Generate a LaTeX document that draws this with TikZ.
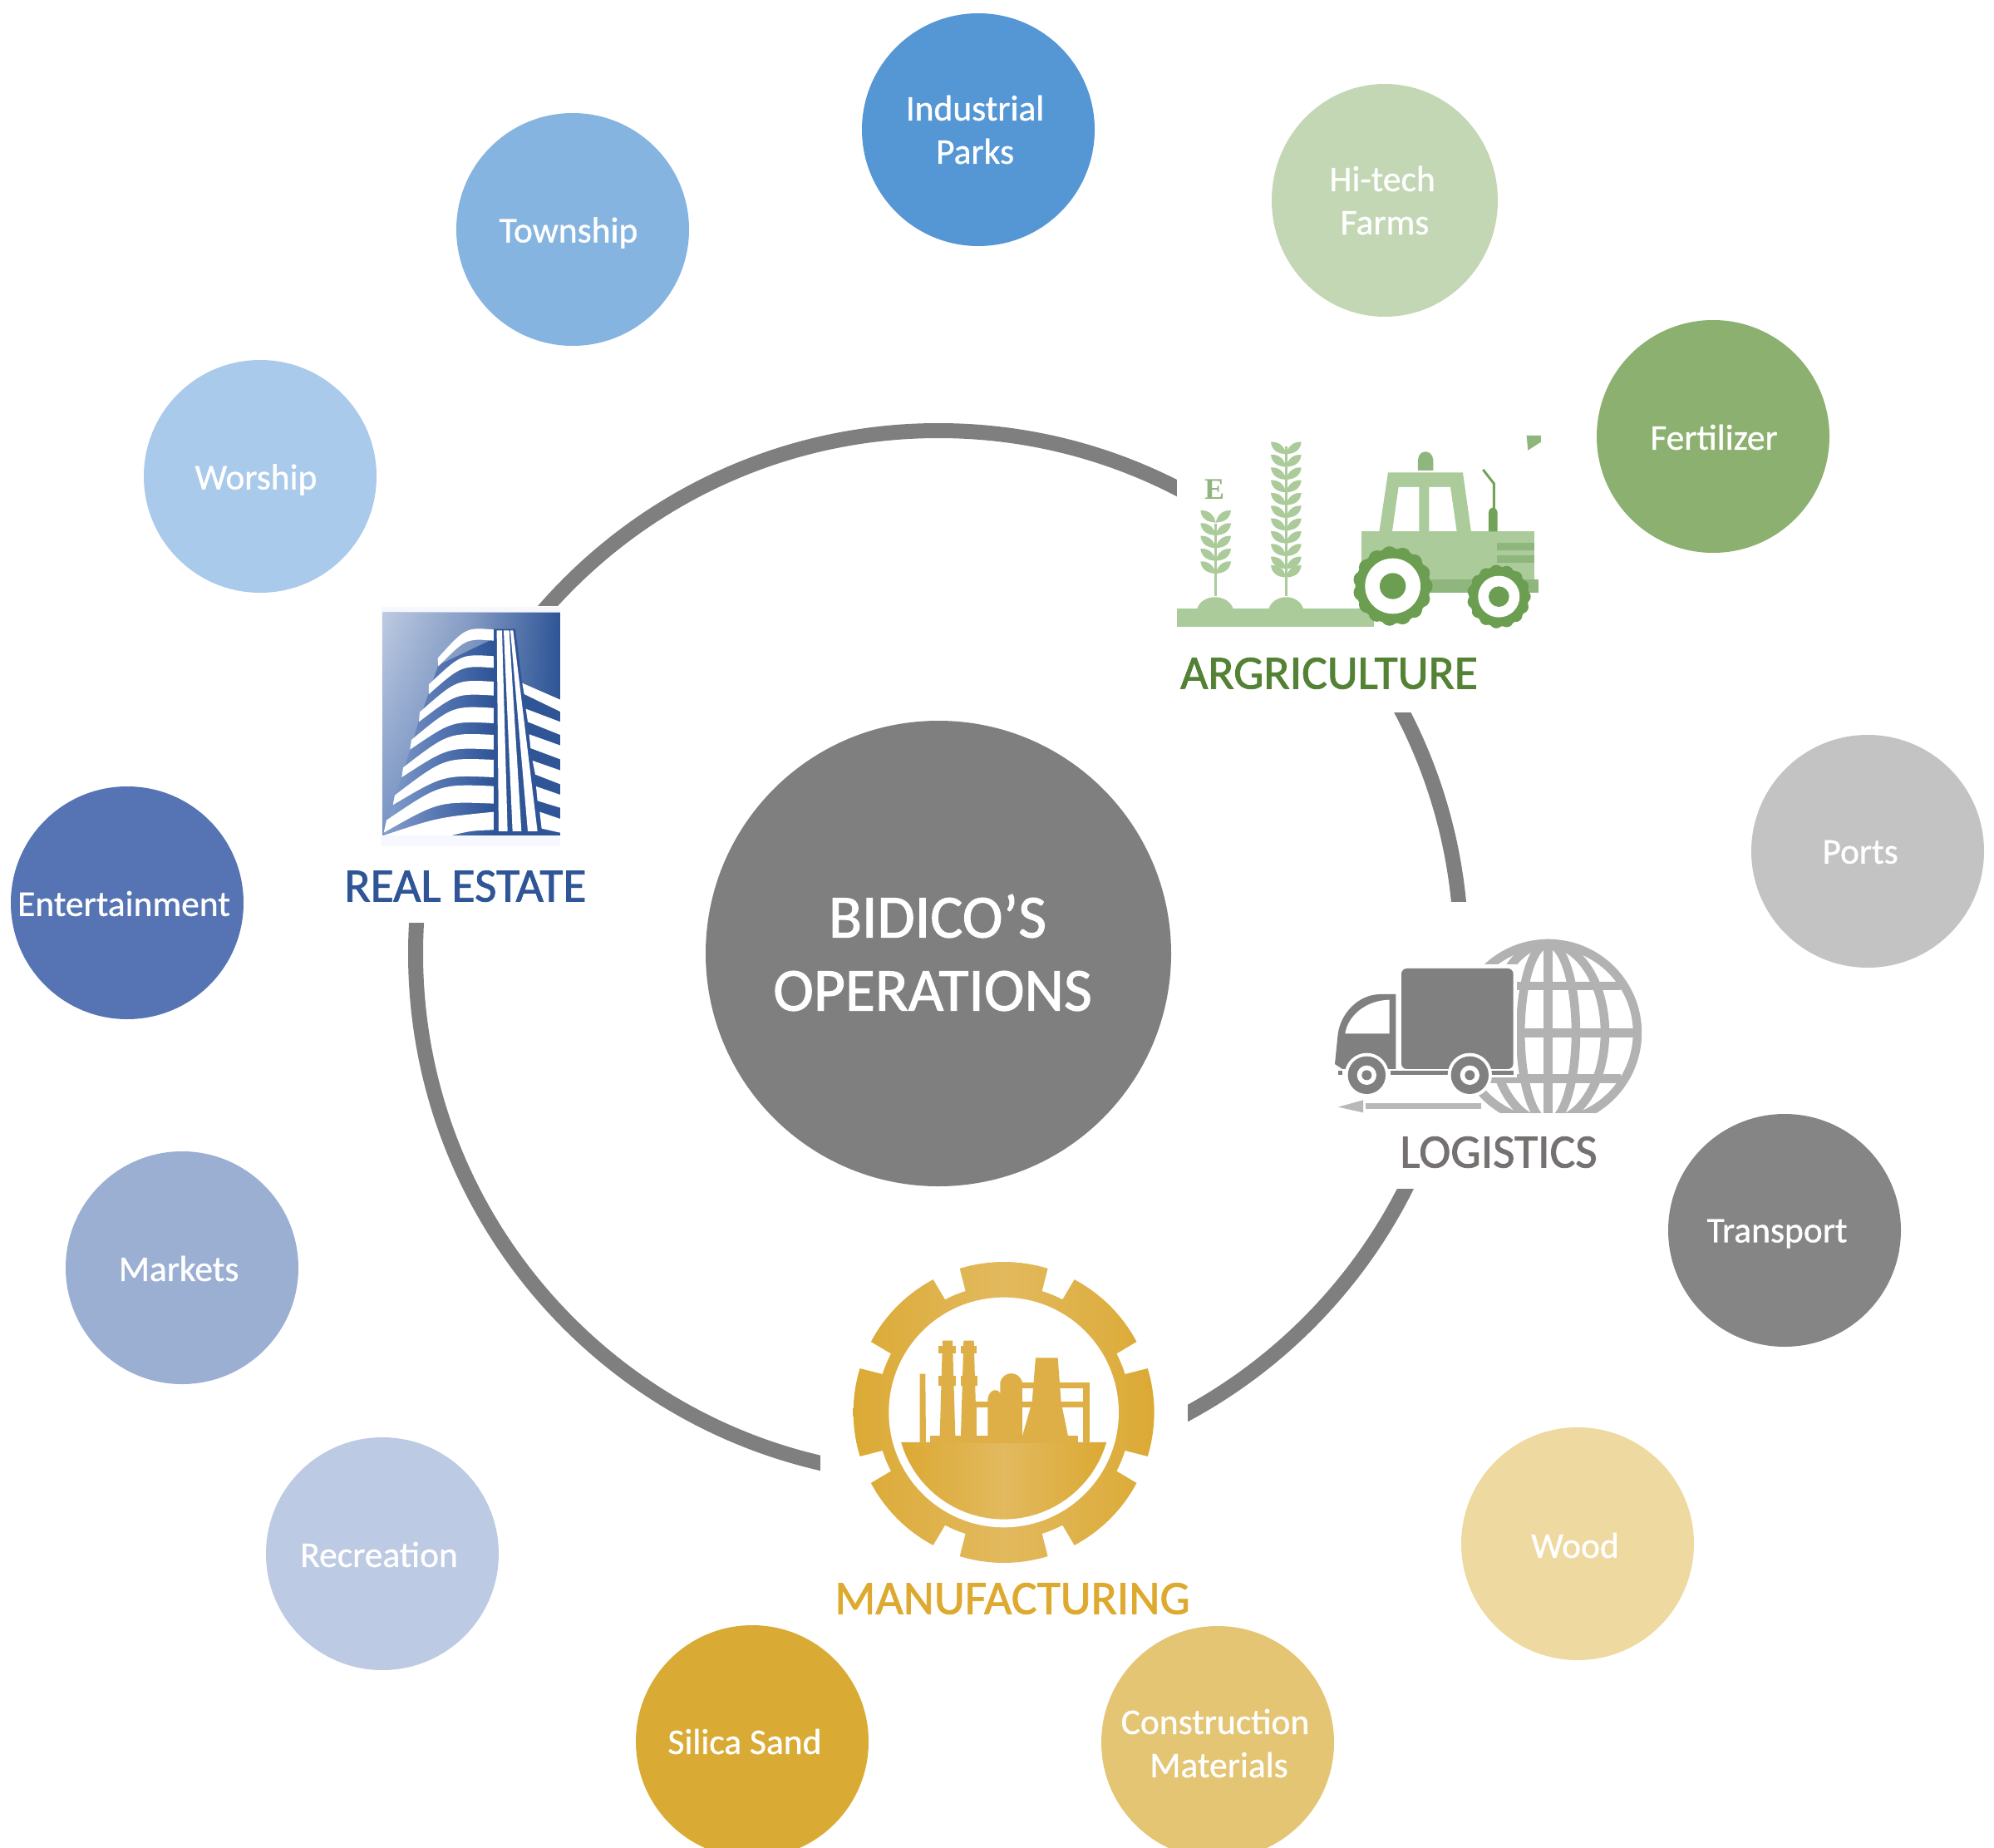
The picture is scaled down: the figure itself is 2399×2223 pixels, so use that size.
\documentclass[tikz,border=0pt]{standalone}
\usepackage{fontspec}
\setmainfont{Carlito}
\newfontfamily\eserif{Liberation Serif}
\newfontfamily\bubf[FakeBold=0.8]{Carlito}
\newfontfamily\headf[FakeBold=1.4]{Carlito}
\usetikzlibrary{fadings,shapes.geometric}
\definecolor{ringgrey}{HTML}{7F7F7F}
\definecolor{reblue}{HTML}{2F5597}
\definecolor{aggreen}{HTML}{548235}
\definecolor{lggrey}{HTML}{767171}
\definecolor{mfgold}{HTML}{DDA92F}
\definecolor{tractl}{HTML}{ABCB9B}
\definecolor{tractm}{HTML}{8FB67C}
\definecolor{tractd}{HTML}{6B9E50}
\definecolor{gearc}{HTML}{DBA933}
\definecolor{gearf}{HTML}{DEAF46}
\definecolor{gearl}{HTML}{E2B95E}
\tikzfading[name=faderight,left color=transparent!100,right color=transparent!0,middle color=transparent!60]
\tikzset{
  bubble/.style={circle,minimum size=280pt,inner sep=0pt,draw=none},
  bubtext/.style={text=white,align=center,inner sep=0pt,font=\bubf\fontsize{43.5}{52}\selectfont},
  headtext/.style={inner sep=0pt,font=\headf\fontsize{57.5}{60}\selectfont},
  iconzoom/.style={x=0.3333pt,y=-0.3333pt}
}
\newcommand{\rband}[6]{\fill[white] (#1,#2) .. controls ({#1+0.5*(522-#1)},{#3-8}) .. (522,#3) -- (522,#6) .. controls ({#4+0.5*(522-#4)},{#6-8}) .. (#4,#5) -- cycle;}
\newcommand{\leafpair}[2]{%
  \fill[tractl] (#1,{#2+24}) .. controls ({#1-38},{#2+22}) and ({#1-52},{#2+4}) .. ({#1-55},{#2-20}) .. controls ({#1-28},{#2-22}) and ({#1-6},{#2-6}) .. (#1,{#2+24}) -- cycle;
  \fill[tractl] (#1,{#2+24}) .. controls ({#1+38},{#2+22}) and ({#1+52},{#2+4}) .. ({#1+55},{#2-20}) .. controls ({#1+28},{#2-22}) and ({#1+6},{#2-6}) .. (#1,{#2+24}) -- cycle;}
\begin{document}
\begin{tikzpicture}[x=1pt,y=-1pt]
\useasboundingbox (0,0) rectangle (2399,2223);
\clip (0,0) rectangle (2399,2223);
% ring
\coordinate (hub) at (1129,1147);
\draw[ringgrey,line width=18pt] (hub) circle [radius=629];
\fill[white] (430,729) rectangle (690,1110);
\fill[white] (1416,524) rectangle (1870,857);
\fill[white] (1600,1085) rectangle (1975,1430);
\fill[white] (987,1496) rectangle (1429,1960);
% centre
\node[circle,minimum size=560pt,inner sep=0pt,fill=ringgrey] (centre) at (hub) {};
\node[text=white,align=center,inner sep=0pt,font=\headf\fontsize{73.5}{88}\selectfont] (centretext) at (1122,1146) {\hspace*{12pt}BIDICO’S\\OPERATIONS};
% bubbles
\node[bubble,fill={rgb,255:red,85;green,150;blue,213}] (b1) at (1177,156) {};
\node[bubtext] (t1) at (1173,156) {Industrial\\Parks};
\node[bubble,fill={rgb,255:red,133;green,180;blue,224}] (b2) at (689,276) {};
\node[bubtext] (t2) at (684,280) {Township};
\node[bubble,fill={rgb,255:red,169;green,202;blue,234}] (b3) at (313,573) {};
\node[bubtext] (t3) at (308,577) {Worship};
\node[bubble,fill={rgb,255:red,86;green,116;blue,180}] (b4) at (153,1086) {};
\node[bubtext] (t4) at (149,1087) {Entertainment};
\node[bubble,fill={rgb,255:red,155;green,175;blue,211}] (b5) at (219,1525) {};
\node[bubtext] (t5) at (215,1526) {Markets};
\node[bubble,fill={rgb,255:red,189;green,202;blue,227}] (b6) at (460,1869) {};
\node[bubtext] (t6) at (456,1870) {Recreation};
\node[bubble,fill={rgb,255:red,217;green,171;blue,53}] (b7) at (905,2095) {};
\node[bubtext] (t7) at (896,2095) {Silica Sand};
\node[bubble,fill={rgb,255:red,228;green,197;blue,116}] (b8) at (1465,2096) {};
\node[bubtext] (t8) at (1462,2097) {Construction\\\hspace*{9pt}Materials};
\node[bubble,fill={rgb,255:red,238;green,217;blue,160}] (b9) at (1898,1857) {};
\node[bubtext] (t9) at (1895,1859) {Wood};
\node[bubble,fill={rgb,255:red,133;green,133;blue,133}] (b10) at (2147,1480) {};
\node[bubtext] (t10) at (2138,1484) {Transport};
\node[bubble,fill={rgb,255:red,195;green,195;blue,195}] (b11) at (2247,1024) {};
\node[bubtext] (t11) at (2238,1025) {Ports};
\node[bubble,fill={rgb,255:red,140;green,176;blue,111}] (b12) at (2061,525) {};
\node[bubtext] (t12) at (2062,526) {Fertilizer};
\node[ellipse,minimum width=272pt,minimum height=280pt,inner sep=0pt,fill={rgb,255:red,195;green,215;blue,181}] (b13) at (1666,241) {};
\node[bubtext] (t13) at (1663,241) {Hi-tech\\\hspace*{6pt}Farms};
% headings
\node[headtext,text=reblue] (hre) at (560,1066) {REAL ESTATE};
\node[headtext,text=aggreen] (hag) at (1599,810) {ARGRICULTURE};
\node[headtext,text=lggrey] (hlg) at (1803,1386) {LOGISTICS};
\node[headtext,text=mfgold] (hmf) at (1218,1923) {MANUFACTURING};
% REAL ESTATE ICON
\begin{scope}[shift={(420,700)},iconzoom]
\fill[blue!3!white] (118,90) rectangle (762,955);
\shade[top color={rgb,255:red,190;green,203;blue,226},bottom color={rgb,255:red,120;green,148;blue,196}] (122,110) rectangle (762,915);
\fill[reblue,path fading=faderight] (122,110) rectangle (762,915);
\shade[left color={rgb,255:red,135;green,160;blue,205},right color=reblue,middle color={rgb,255:red,85;green,118;blue,178}]
 (322,300) -- (522,205) -- (522,915) -- (125,915) -- (160,800) -- (190,700) -- (222,600) -- (252,500) -- (288,400) -- cycle;
\fill[reblue] (522,170) -- (600,170) -- (695,915) -- (522,915) -- cycle;
\fill[reblue] (625,365) -- (762,420) -- (762,915) -- (695,915) -- cycle;
\rband{320}{275}{172}{322}{305}{212}
\rband{288}{370}{268}{288}{405}{310}
\rband{255}{470}{360}{252}{505}{410}
\rband{225}{570}{455}{220}{605}{510}
\rband{195}{670}{552}{190}{705}{605}
\rband{165}{770}{642}{158}{805}{705}
\rband{135}{860}{737}{125}{905}{800}
\fill[white] (125,915) .. controls (320,850) .. (522,830) -- (522,895) .. controls (440,898) .. (370,915) -- cycle;
\fill[white] (533,175) -- (552,175) -- (572,900) -- (540,900) -- cycle;
\fill[white] (558,175) -- (578,175) -- (622,900) -- (590,900) -- cycle;
\fill[white] (582,175) -- (592,175) -- (680,900) -- (645,900) -- cycle;
\fill[white] (625,365) -- (762,425) -- (762,468) -- (632,405) -- cycle;
\fill[white] (638,458) -- (762,505) -- (762,552) -- (645,505) -- cycle;
\fill[white] (650,550) -- (762,590) -- (762,640) -- (655,600) -- cycle;
\fill[white] (662,645) -- (762,680) -- (762,730) -- (672,695) -- cycle;
\fill[white] (675,738) -- (762,768) -- (762,815) -- (680,790) -- cycle;
\fill[white] (688,830) -- (762,855) -- (762,905) -- (695,890) -- cycle;
\end{scope}
% AGRICULTURE ICON
\begin{scope}[shift={(1390,500)},iconzoom]
\fill[tractl] (78,695) rectangle (790,762);
\fill[tractl] (150,700) .. controls (165,640) and (265,640) .. (282,700) -- cycle;
\fill[tractl] (408,700) .. controls (425,640) and (520,640) .. (535,700) -- cycle;
\draw[tractl,line width=3.5pt] (218,390) -- (218,650);
\draw[tractl,line width=3.5pt] (472,110) -- (472,650);
\foreach \yy in {362,408,454,500,546} { \leafpair{218}{\yy} }
\foreach \yy in {115,161,207,253,299,345,391,437,483,529,560} { \leafpair{472}{\yy} }
\node[text=tractm,inner sep=0pt,font=\eserif\bfseries\fontsize{36}{36}\selectfont] (eletter) at (213,265) {E};
\fill[tractm] (1340,72) -- (1392,72) -- (1392,95) -- (1345,125) -- cycle;
\fill[tractl] (840,205) -- (1110,205) -- (1140,420) -- (808,420) -- cycle;
\fill[white] (878,258) -- (952,258) -- (952,418) -- (855,418) -- cycle;
\fill[white] (988,258) -- (1065,258) -- (1088,418) -- (988,418) -- cycle;
\fill[tractm] (948,198) -- (948,160) .. controls (950,120) and (1000,120) .. (1003,160) -- (1003,198) -- cycle;
\fill[tractl] (745,418) -- (1368,418) -- (1368,600) -- (745,600) -- cycle;
\fill[tractd!80!tractm] (1203,418) -- (1203,350) .. controls (1205,325) and (1232,325) .. (1235,350) -- (1235,418) -- cycle;
\draw[tractd!80!tractm,line width=3pt] (1183,195) -- (1222,245) -- (1222,340);
\fill[tractm] (1232,458) rectangle (1368,485);
\fill[tractm] (1232,505) rectangle (1368,532);
\fill[tractm] (990,590) rectangle (1382,640);
\fill[tractd] (857,615) circle [radius=135];
\foreach \aa in {0,24,...,336} { \fill[tractd] (857,615) ++(\aa:114) circle [radius=30]; }
\fill[white] (857,615) circle [radius=100];
\fill[tractd] (857,615) circle [radius=47];
\fill[tractd] (1240,653) circle [radius=108];
\foreach \aa in {0,24,...,336} { \fill[tractd] (1240,653) ++(\aa:91) circle [radius=24]; }
\fill[white] (1240,653) circle [radius=75];
\fill[tractd] (1240,653) circle [radius=37];
\end{scope}
% LOGISTICS ICON
\begin{scope}[shift={(1580,1080)},iconzoom]
\begin{scope}
\clip (400,100) rectangle (1250,775);
\draw[black!30,line width=10.5pt] (848,487) circle [radius=322];
\draw[black!30,line width=10.5pt] (848,487) ellipse [x radius=100,y radius=322];
\draw[black!30,line width=10.5pt] (848,487) ellipse [x radius=205,y radius=322];
\draw[black!30,line width=10.5pt] (848,165) -- (848,809);
\draw[black!30,line width=10.5pt] (590,318) -- (1110,318);
\draw[black!30,line width=10.5pt] (526,487) -- (1170,487);
\draw[black!30,line width=10.5pt] (590,652) -- (1110,652);
\end{scope}
\fill[white] (70,240) rectangle (735,648);
\fill[black!50,rounded corners=6.6pt] (318,255) rectangle (722,618);
\fill[black!50] (298,348) -- (240,348) .. controls (160,350) and (95,420) .. (88,500) -- (78,600) -- (105,618) -- (298,618) -- cycle;
\fill[white] (275,368) -- (275,490) -- (115,490) .. controls (125,425) and (190,370) .. (275,368) -- cycle;
\fill[black!50] (280,625) rectangle (722,640);
\fill[black!50] (90,625) rectangle (105,640);
\fill[white] (193,640) circle [radius=80];
\fill[white] (565,640) circle [radius=80];
\fill[black!50] (193,640) circle [radius=68];
\fill[white] (193,640) circle [radius=35];
\fill[black!50] (193,640) circle [radius=18];
\fill[black!50] (565,640) circle [radius=68];
\fill[white] (565,640) circle [radius=35];
\fill[black!50] (565,640) circle [radius=18];
\fill[black!28] (90,755) -- (180,730) -- (180,775) -- cycle;
\fill[black!28] (190,742) rectangle (605,762);
\end{scope}
% MANUFACTURING ICON
\begin{scope}[shift={(970,1480)},iconzoom]
\begin{scope}[shift={(713,657)}]
\begin{scope}
\clip plot[domain=0:360,samples=721] ({\x}:{(abs(mod(\x+22.5,45)-22.5)<17.4)?543:459}) -- cycle;
\shade[left color=gearc,right color=gearc,middle color=gearl] (-560,-560) rectangle (560,560);
\end{scope}
\fill[white] (0,0) circle [radius=415];
\shade[left color=gearc,right color=gearc,middle color=gearl] plot[domain=16.2:163.8,samples=40] ({\x}:386) -- cycle;
\end{scope}
\fill[gearf] (448,742) rectangle (980,767);
\fill[gearf] (410,518) -- (430,518) -- (432,767) -- (410,767) -- cycle;
\fill[gearf] (492,398) -- (528,398) -- (538,742) -- (482,742) -- cycle;
\fill[gearf] (478,418) rectangle (540,445);
\fill[gearf] (478,525) rectangle (540,560);
\fill[gearf] (568,398) -- (605,398) -- (615,742) -- (558,742) -- cycle;
\fill[gearf] (558,418) rectangle (615,445);
\fill[gearf] (558,525) rectangle (618,560);
\fill[gearf] (610,617) rectangle (1020,640);
\fill[gearf] (780,550) rectangle (1022,570);
\fill[gearf] (998,550) rectangle (1022,767);
\fill[gearf] (610,617) rectangle (614,742);
\fill[gearf] (655,742) -- (655,610) .. controls (660,570) and (695,570) .. (700,590) -- (700,550) .. controls (710,505) and (770,505) .. (780,550) -- (780,742) -- cycle;
\fill[gearf] (828,460) -- (908,460) -- (920,620) -- (945,742) -- (780,742) -- (815,620) -- cycle;
\end{scope}
\end{tikzpicture}
\end{document}
